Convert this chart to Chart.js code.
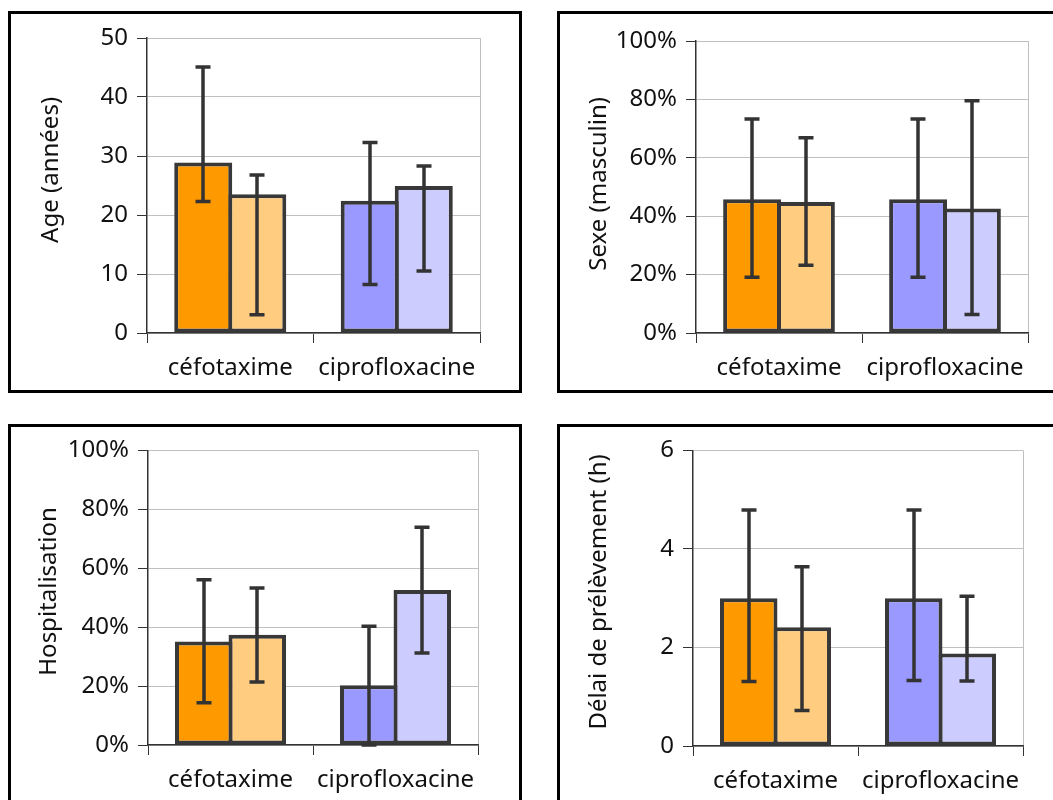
<!DOCTYPE html>
<html>
<head>
<meta charset="utf-8">
<script src="https://cdn.jsdelivr.net/npm/chart.js@4/dist/chart.umd.min.js"></script>
<style>
  html, body { margin: 0; padding: 0; background: #fff; }
  body { width: 1053px; height: 800px; overflow: hidden; position: relative; }
  .panel { position: absolute; width: 514px; height: 382px; border: 3px solid #000; box-sizing: border-box; background: #fff; }
  .panel canvas { display: block; }
</style>
</head>
<body>
<div class="panel" style="left:8px; top:11px;"><canvas id="chart-age" width="508" height="376"></canvas></div>
<div class="panel" style="left:557px; top:11px;"><canvas id="chart-sexe" width="508" height="376"></canvas></div>
<div class="panel" style="left:8px; top:424px;"><canvas id="chart-hosp" width="508" height="376"></canvas></div>
<div class="panel" style="left:557px; top:424px;"><canvas id="chart-delai" width="508" height="376"></canvas></div>

<script>
// categories and bar colours (first bar / second bar in each group)
const categories = ['céfotaxime', 'ciprofloxacine'];
const firstColors = ['#FF9900', '#9999FF'];
const secondColors = ['#FFCC80', '#CCCCFF'];

// Age (années)
const ageFirst = [28.9, 22.4];
const ageFirstLow = [22.3, 8.2];
const ageFirstHigh = [45.1, 32.3];
const ageSecond = [23.5, 24.9];
const ageSecondLow = [3.1, 10.5];
const ageSecondHigh = [26.8, 28.3];

// Sexe (masculin), %
const sexeFirst = [45.8, 45.8];
const sexeFirstLow = [19.1, 19.1];
const sexeFirstHigh = [73.3, 73.3];
const sexeSecond = [44.9, 42.6];
const sexeSecondLow = [23.2, 6.3];
const sexeSecondHigh = [66.9, 79.5];

// Hospitalisation, %
const hospFirst = [35.1, 20.3];
const hospFirstLow = [14.3, 0];
const hospFirstHigh = [56.1, 40.3];
const hospSecond = [37.4, 52.6];
const hospSecondLow = [21.4, 31.2];
const hospSecondHigh = [53.3, 73.9];

// Délai de prélèvement (h)
const delaiFirst = [3.0, 3.0];
const delaiFirstLow = [1.31, 1.33];
const delaiFirstHigh = [4.79, 4.79];
const delaiSecond = [2.41, 1.88];
const delaiSecondLow = [0.72, 1.32];
const delaiSecondHigh = [3.64, 3.04];

Chart.defaults.font.family = '"Noto Sans", "Open Sans", sans-serif';
Chart.defaults.font.size = 24;
Chart.defaults.color = '#111';

const AXIS = '#333';
const GRID = '#c0c0c0';
const BAR_BORDER = '#383838';

// draws asymmetric error bars from errLow / errHigh on each dataset
const errorBars = {
  id: 'errorBars',
  afterDatasetsDraw(chart) {
    const { ctx } = chart;
    const yScale = chart.scales.y;
    chart.data.datasets.forEach((ds, di) => {
      const meta = chart.getDatasetMeta(di);
      meta.data.forEach((bar, i) => {
        const top = yScale.getPixelForValue(ds.errHigh[i]);
        const bottom = yScale.getPixelForValue(ds.errLow[i]);
        const x = Math.round(bar.x);
        ctx.save();
        ctx.strokeStyle = AXIS;
        ctx.lineWidth = 3.5;
        ctx.lineCap = 'butt';
        ctx.beginPath();
        ctx.moveTo(x, top);
        ctx.lineTo(x, bottom);
        ctx.moveTo(x - 7.5, top);
        ctx.lineTo(x + 7.5, top);
        ctx.moveTo(x - 7.5, bottom);
        ctx.lineTo(x + 7.5, bottom);
        ctx.stroke();
        ctx.restore();
      });
    });
  }
};

function makePanel(id, p) {
  const canvas = document.getElementById(id);
  const W = canvas.width, H = canvas.height;
  const ds = (data, low, high, colors) => ({
    data, errLow: low, errHigh: high,
    backgroundColor: colors,
    borderColor: BAR_BORDER,
    borderWidth: 4,
    borderSkipped: false,
    categoryPercentage: 0.649,
    barPercentage: 1.074
  });
  return new Chart(canvas, {
    type: 'bar',
    data: {
      labels: categories,
      datasets: [
        ds(p.first, p.firstLow, p.firstHigh, firstColors),
        ds(p.second, p.secondLow, p.secondHigh, secondColors)
      ]
    },
    options: {
      responsive: false,
      animation: false,
      layout: { padding: { top: p.area.top, right: W - p.area.right, left: 0, bottom: 0 } },
      plugins: { legend: { display: false }, tooltip: { enabled: false } },
      scales: {
        x: {
          grid: {
            offset: true,
            color: c => c.type === 'scale' ? GRID : 'rgba(0,0,0,0)',
            tickColor: AXIS,
            tickLength: 10,
            lineWidth: 1
          },
          border: { color: AXIS, width: 1.5 },
          ticks: { padding: 11 },
          afterFit: s => { s.height = H - p.area.bottom; }
        },
        y: {
          min: 0,
          max: p.max,
          grid: { color: GRID, tickColor: AXIS, tickLength: 10, lineWidth: 1 },
          border: { color: AXIS, width: 1.5 },
          ticks: {
            stepSize: p.step,
            padding: 9,
            callback: v => p.pct ? v + '%' : v
          },
          title: {
            display: true,
            text: p.title,
            font: { size: 24, lineHeight: 1.2 },
            padding: { top: p.titlePad, bottom: 0 }
          },
          afterFit: s => { s.width = p.area.left; }
        }
      }
    },
    plugins: [errorBars]
  });
}

// leading spaces nudge each axis title up to where it sits in the original
makePanel('chart-age', {
  title: '     Age (années)', max: 50, step: 10, pct: false, titlePad: 26,
  first: ageFirst, firstLow: ageFirstLow, firstHigh: ageFirstHigh,
  second: ageSecond, secondLow: ageSecondLow, secondHigh: ageSecondHigh,
  area: { left: 136, right: 469, top: 24, bottom: 319 }
});

makePanel('chart-sexe', {
  title: ' Sexe (masculin)', max: 100, step: 20, pct: true, titlePad: 25,
  first: sexeFirst, firstLow: sexeFirstLow, firstHigh: sexeFirstHigh,
  second: sexeSecond, secondLow: sexeSecondLow, secondHigh: sexeSecondHigh,
  area: { left: 136, right: 468, top: 27, bottom: 319 }
});

makePanel('chart-hosp', {
  title: '  Hospitalisation', max: 100, step: 20, pct: true, titlePad: 24,
  first: hospFirst, firstLow: hospFirstLow, firstHigh: hospFirstHigh,
  second: hospSecond, secondLow: hospSecondLow, secondHigh: hospSecondHigh,
  area: { left: 137, right: 467, top: 22, bottom: 318 }
});

makePanel('chart-delai', {
  title: '  Délai de prélèvement (h)', max: 6, step: 2, pct: false, titlePad: 25,
  first: delaiFirst, firstLow: delaiFirstLow, firstHigh: delaiFirstHigh,
  second: delaiSecond, secondLow: delaiSecondLow, secondHigh: delaiSecondHigh,
  area: { left: 133, right: 463, top: 22, bottom: 319 }
});
</script>
</body>
</html>
